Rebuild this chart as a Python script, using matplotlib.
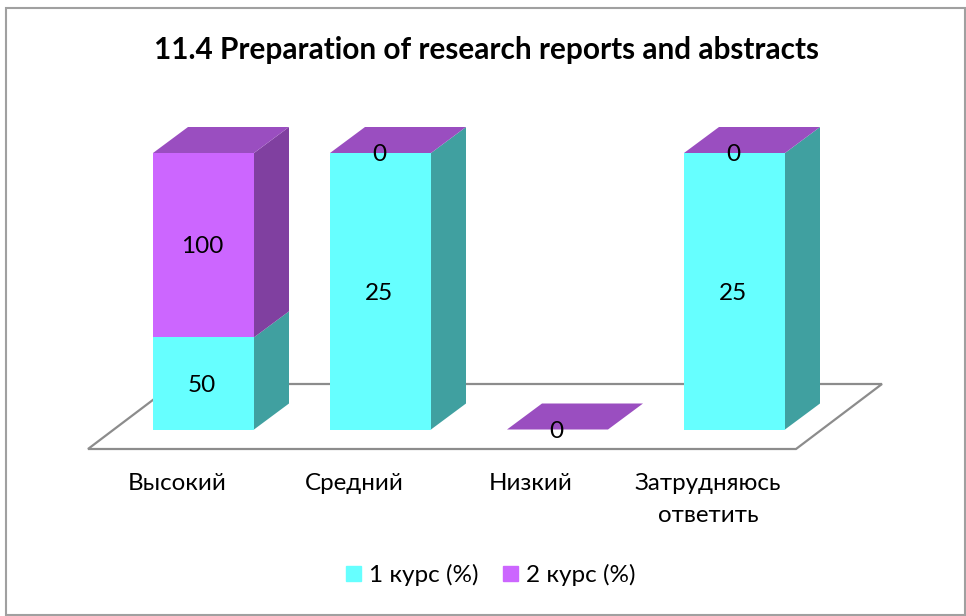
import matplotlib
matplotlib.use('Agg')
import matplotlib.pyplot as plt
from matplotlib.patches import Patch, Rectangle
import numpy as np

plt.rcParams['font.family'] = ['Lato', 'Open Sans', 'DejaVu Sans']

categories = ['Высокий', 'Средний', 'Низкий', 'Затрудняюсь\nответить']
kurs1 = [50, 25, 0, 25]
kurs2 = [100, 0, 0, 0]
series_names = ['1 курс (%)', '2 курс (%)']
title = '11.4 Preparation of research reports and abstracts'

W, H = 966, 616
CYAN, CYAN_SIDE = '#66FFFF', '#40A0A0'
PURPLE, PURPLE_SIDE, PURPLE_TOP = '#CC66FF', '#8040A0', '#9A4EC0'

# plot box in pixels, everything inside is in category / share units
L, R, T, B = 88, 882, 127, 449
PX_X = 177.0    # px for one category
PX_Y = 276.5    # px for share 1.0
BAR_W = 101 / PX_X
DX = 35 / PX_X  # 3d depth
DY = 26 / PX_Y

fig = plt.figure(figsize=(W / 100, H / 100), dpi=100)
fig.add_artist(Rectangle((6 / W, 1 / H), 959 / W, 607.5 / H, transform=fig.transFigure,
                         fill=False, ec='#a0a0a0', lw=1.5))
ax = fig.add_axes([L / W, 1 - B / H, (R - L) / W, (B - T) / H])

x = np.arange(len(categories))
x0 = (L - 203.5) / PX_X
x1 = (R - 203.5) / PX_X
y0 = (429.5 - B) / PX_Y
y1 = (429.5 - T) / PX_Y
ax.set_xlim(x0, x1)
ax.set_ylim(y0, y1)

a = np.array(kurs1, dtype=float)
b = np.array(kurs2, dtype=float)
total = a + b
share1 = np.divide(a, total, out=np.zeros_like(a), where=total > 0)
share2 = np.divide(b, total, out=np.zeros_like(b), where=total > 0)

# floor
floor_w = 708 / PX_X
floor_back = (429.5 - 384) / PX_Y
ax.fill([x0, x0 + floor_w, x1, x1 - floor_w], [y0, y0, floor_back, floor_back],
        fc='white', ec='#8c8c8c', lw=1.6, zorder=1, clip_on=False)

ax.bar(x, share1, BAR_W, color=CYAN, zorder=3)
ax.bar(x, share2, BAR_W, bottom=share1, color=PURPLE, zorder=3)

for xi, s1, s2 in zip(x, share1, share2):
    right = xi + BAR_W / 2
    left = xi - BAR_W / 2
    if s1 > 0:
        ax.fill([right, right + DX, right + DX, right], [0, DY, s1 + DY, s1], fc=CYAN_SIDE, lw=0, zorder=2)
    if s2 > 0:
        ax.fill([right, right + DX, right + DX, right], [s1, s1 + DY, s1 + s2 + DY, s1 + s2],
                fc=PURPLE_SIDE, lw=0, zorder=2)
    top = s1 + s2
    ax.fill([left, right, right + DX, left + DX], [top, top, top + DY, top + DY], fc=PURPLE_TOP, lw=0,
            zorder=2, clip_on=False)

# value labels
for xi, s1, s2, v1, v2 in zip(x, share1, share2, kurs1, kurs2):
    if v1 > 0:
        ax.annotate(str(v1), (xi, s1 / 2), xytext=(-1, -1.3), textcoords='offset points', ha='center',
                    va='center', fontsize=17.5, zorder=5)
    ax.annotate(str(v2), (xi, s1 + s2 / 2), xytext=(-1, -1.3), textcoords='offset points', ha='center',
                va='center', fontsize=17.5, zorder=5)

ax.set_xticks(x - 26.5 / PX_X)
ax.set_xticklabels(categories, fontsize=17.4, linespacing=1.63)
ax.tick_params(axis='x', length=0, pad=17.5)
ax.set_yticks([])
for s in ax.spines.values():
    s.set_visible(False)
ax.patch.set_visible(False)

fig.text(487 / W, 1 - 50 / H, title, ha='center', va='center', fontsize=21.4, fontweight='bold')

handles = [Patch(color=CYAN, label=series_names[0]), Patch(color=PURPLE, label=series_names[1])]
fig.legend(handles=handles, loc='center', bbox_to_anchor=(491 / W, 1 - 575 / H), ncol=2, frameon=False,
           fontsize=17.5, handlelength=0.62, handleheight=0.62, handletextpad=0.33, columnspacing=1.0)

fig.savefig('out.png', dpi=100)
